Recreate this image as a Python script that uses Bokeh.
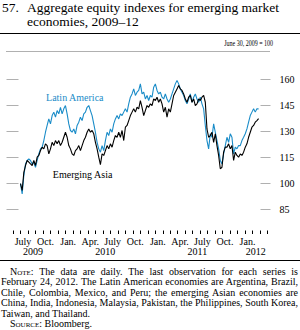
import pandas as pd
from bokeh.plotting import figure
from bokeh.layouts import column
from bokeh.models import (LinearAxis, FixedTicker, Range1d, Label, ColumnDataSource, Div)
from bokeh.core.properties import value
from bokeh.embed import file_html
from bokeh.resources import INLINE

# ---------------- data ----------------
start_date = "2009-06-30"
end_date = "2012-02-24"

latin_america = [
    100.0, 94.0, 104.6, 111.3, 113.3, 114.2, 113.3, 111.3, 112.3, 109.4,
    113.3, 117.1, 120.0, 121.0, 124.8, 129.6, 133.5, 137.3, 134.4, 139.2,
    141.2, 138.3, 142.1, 140.2, 144.0, 140.2, 143.1, 145.0, 140.2, 134.4,
    130.6, 129.6, 131.5, 128.7, 133.5, 135.4, 138.3, 136.3, 140.2, 141.2,
    144.0, 145.0, 142.1, 139.2, 134.4, 129.6, 123.8, 120.0, 118.1, 121.9,
    119.0, 124.8, 129.6, 127.7, 131.5, 129.6, 134.4, 137.3, 139.2, 137.3,
    140.2, 139.2, 141.2, 143.1, 141.2, 146.0, 149.8, 151.7, 154.6, 150.8,
    152.7, 153.7, 157.5,
    151.7, 152.7, 148.8, 150.8, 147.9, 150.8, 149.8, 155.6, 157.5, 153.7,
    151.7, 152.7, 149.8, 148.8, 151.7, 148.8, 146.9, 148.8, 151.7, 154.6,
    157.5, 159.4, 157.5, 154.6, 152.7, 150.8, 147.9, 146.0, 148.8, 151.7,
    146.9, 149.8, 151.7, 148.8, 146.9, 149.8, 146.0, 143.1, 133.5, 124.8,
    120.0, 128.7, 126.7, 134.4, 129.6, 124.8, 120.0, 113.3, 111.3, 117.1,
    121.9, 126.7, 123.8, 128.7, 126.7, 117.1, 121.0, 120.0, 121.9, 121.9,
    124.8, 126.7, 128.7, 131.5, 135.4, 139.2, 141.2, 143.1, 141.2, 143.1,
    143.1,
]

emerging_asia = [
    100.0, 96.0, 106.5, 110.4, 113.3, 112.3, 111.3, 110.4, 113.3, 110.4,
    115.2, 116.2, 119.0, 121.0, 120.0, 122.9, 121.9, 117.1, 120.0, 123.8,
    121.9, 124.8, 122.9, 124.8, 121.9, 123.8, 126.7, 129.6, 126.7, 121.9,
    120.0, 117.1, 116.2, 119.0, 120.0, 121.9, 119.0, 121.9, 124.8, 126.7,
    129.6, 131.5, 129.6, 130.6, 128.7, 123.8, 120.0, 115.2, 110.9, 117.1,
    116.2, 119.0, 121.9, 120.0, 122.9, 121.0, 124.8, 127.7, 126.7, 129.6,
    126.7, 130.6, 124.8, 132.5, 133.5, 136.3, 139.2, 141.2, 143.1, 141.2,
    144.0, 143.1, 147.9,
    144.0, 139.2, 142.1, 145.0, 144.0, 146.0, 145.0, 148.8, 147.9, 149.8,
    146.9, 148.8, 146.0, 141.2, 144.0, 138.3, 143.1, 141.2, 146.0, 150.8,
    152.7, 154.6, 156.5, 154.6, 153.7, 151.7, 148.8, 146.9, 149.8, 150.8,
    146.9, 148.8, 145.0, 146.0, 148.8, 147.9, 149.8, 150.8, 146.9, 131.5,
    126.7, 127.7, 129.6, 123.8, 128.7, 121.9, 116.2, 108.5, 109.4, 118.1,
    121.0, 121.0, 122.9, 120.0, 121.9, 113.3, 118.1, 116.2, 115.2, 117.1,
    116.2, 118.1, 121.0, 122.9, 126.7, 129.6, 132.5, 133.5, 135.4, 136.3,
    137.4,
]

y_ticks = [85, 100, 115, 130, 145, 160]
month_labels = ["July", "Oct.", "Jan.", "Apr.", "July", "Oct.",
                "Jan.", "Apr.", "July", "Oct.", "Jan."]
month_label_dates = ["2009-07-10", "2009-10-10", "2010-01-10", "2010-04-10",
                     "2010-07-10", "2010-10-10", "2011-01-10", "2011-04-10",
                     "2011-07-10", "2011-10-10", "2012-01-10"]
year_labels = ["2009", "2010", "2011", "2012"]
year_label_dates = ["2009-08-20", "2010-06-10", "2011-06-20", "2012-02-12"]

title_num = "57."
title_lines = ["Aggregate equity indexes for emerging market",
               "economies, 2009\u201312"]
unit_note = "June 30, 2009 = 100"
note_lines = [
    "The data are daily. The last observation for each series is",
    "February 24, 2012. The Latin American economies are Argentina, Brazil,",
    "Chile, Colombia, Mexico, and Peru; the emerging Asian economies are",
    "China, India, Indonesia, Malaysia, Pakistan, the Philippines, South Korea,",
    "Taiwan, and Thailand.",
]
source_text = "Bloomberg."

# ---------------- helpers ----------------
FONT = "Liberation Serif"
CSS_FONT = "font-family:'Liberation Serif',serif;color:#000;"
BLUE = "#1a8cc8"
GREY = "#b0b0b0"
base = pd.Timestamp(start_date)


def day(d):
    return int((pd.Timestamp(d) - base).days)


dates = pd.date_range(start_date, end_date, periods=len(latin_america))
xs = [(d - base).total_seconds() / 86400.0 for d in dates]
src = ColumnDataSource(dict(x=xs, la=latin_america, ea=emerging_asia))
x_range = Range1d(-57, 1017.5)

# ---------------- header ----------------
T = "position:absolute;font-size:13.5px;line-height:15px;white-space:nowrap;"
hdr_html = (
    f'<div style="position:relative;width:300px;height:52px;{CSS_FONT}">'
    f'<div style="{T}left:2px;top:0;">{title_num}</div>'
    f'<div style="{T}left:27px;top:0;">{title_lines[0]}</div>'
    f'<div style="{T}left:27px;top:14px;">{title_lines[1]}</div>'
    '<div style="position:absolute;left:0;top:32.5px;width:300px;height:1.8px;background:#000;"></div>'
    f'<div style="position:absolute;right:27px;top:39.6px;font-size:7.5px;line-height:8px;white-space:nowrap;'
    f'transform:scaleX(0.8);transform-origin:right center;">{unit_note}</div>'
    f'<div style="position:absolute;left:6px;top:51px;width:264px;height:1px;background:{GREY};"></div>'
    '</div>'
)
hdr = Div(text=hdr_html, width=300, height=52, margin=0)

# ---------------- main chart ----------------
p = figure(frame_width=264, frame_height=182, output_backend="svg",
           toolbar_location=None, x_range=x_range, y_range=Range1d(70.6, 175.6),
           x_axis_type=None, y_axis_type=None,
           min_border_left=6, min_border_right=30, min_border_top=0,
           min_border_bottom=0)
p.outline_line_color = None

left_axis = LinearAxis(ticker=FixedTicker(ticks=y_ticks), axis_line_color=None,
                       major_tick_in=12, major_tick_out=0, major_tick_line_color=GREY,
                       minor_tick_line_color=None,
                       major_label_overrides={t: "" for t in y_ticks},
                       major_label_standoff=0)
p.add_layout(left_axis, "left")

right_axis = LinearAxis(ticker=FixedTicker(ticks=y_ticks), axis_line_color=None,
                        major_tick_in=10, major_tick_out=0, major_tick_line_color=GREY,
                        minor_tick_line_color=None, major_label_standoff=9,
                        major_label_text_font=FONT, major_label_text_font_size="10px",
                        major_label_text_color="black")
p.add_layout(right_axis, "right")

month_starts = [day(d) for d in pd.date_range("2009-05-01", "2012-04-01", freq="MS")]
x_axis = LinearAxis(ticker=FixedTicker(ticks=[], minor_ticks=month_starts),
                    axis_line_color="black", axis_line_width=1,
                    major_tick_line_color=None, major_tick_out=0, major_tick_in=0,
                    minor_tick_in=4, minor_tick_out=0, minor_tick_line_color="black",
                    major_label_standoff=0)
p.add_layout(x_axis, "below")

p.line("x", "la", source=src, line_color=BLUE, line_width=1.1)
p.line("x", "ea", source=src, line_color="black", line_width=1.1)

p.add_layout(Label(x=222, y=149.9, text="Latin America", text_color=BLUE,
                   text_font=FONT, text_font_size="10px", text_align="center",
                   text_baseline="middle"))
p.add_layout(Label(x=254, y=105.2, text="Emerging Asia", text_color="black",
                   text_font=FONT, text_font_size="10px", text_align="center",
                   text_baseline="middle"))

# ---------------- date labels (shared x scale) ----------------
lab = figure(width=300, height=26, output_backend="svg", toolbar_location=None,
             x_range=x_range, y_range=Range1d(26, 0),
             x_axis_type=None, y_axis_type=None,
             min_border_left=6, min_border_right=30, min_border_top=0,
             min_border_bottom=0)
lab.outline_line_color = None
lab.text(x=[day(d) for d in month_label_dates], y=[6.5] * len(month_labels),
         text=month_labels, text_font=value(FONT), text_font_size="10px",
         text_align="center", text_baseline="middle", text_color="black")
lab.text(x=[day(d) for d in year_label_dates], y=[16.5] * len(year_labels),
         text=year_labels, text_font=value(FONT), text_font_size="10px",
         text_align="center", text_baseline="middle", text_color="black")

# ---------------- notes ----------------
J = "text-align:justify;text-align-last:justify;"
rows = []
rows.append(f'<div style="{J}padding-left:9px;"><span style="font-variant:small-caps">Note</span>: {note_lines[0]}</div>')
for ln in note_lines[1:-1]:
    rows.append(f'<div style="{J}">{ln}</div>')
rows.append(f'<div>{note_lines[-1]}</div>')
rows.append(f'<div style="padding-left:9px;"><span style="font-variant:small-caps">Source</span>: {source_text}</div>')
note_html = (
    f"<div style=\"width:300px;border-top:1.5px solid #000;box-sizing:border-box;{CSS_FONT}"
    "font-size:10px;line-height:10.6px;padding:5.5px 2px 0 1px;\">" + "".join(rows) + "</div>"
)
notes = Div(text=note_html, width=300, height=70, margin=0)

layout = column(hdr, p, lab, notes, spacing=0, margin=0)
open("out.html", "w").write(file_html(layout, INLINE))
